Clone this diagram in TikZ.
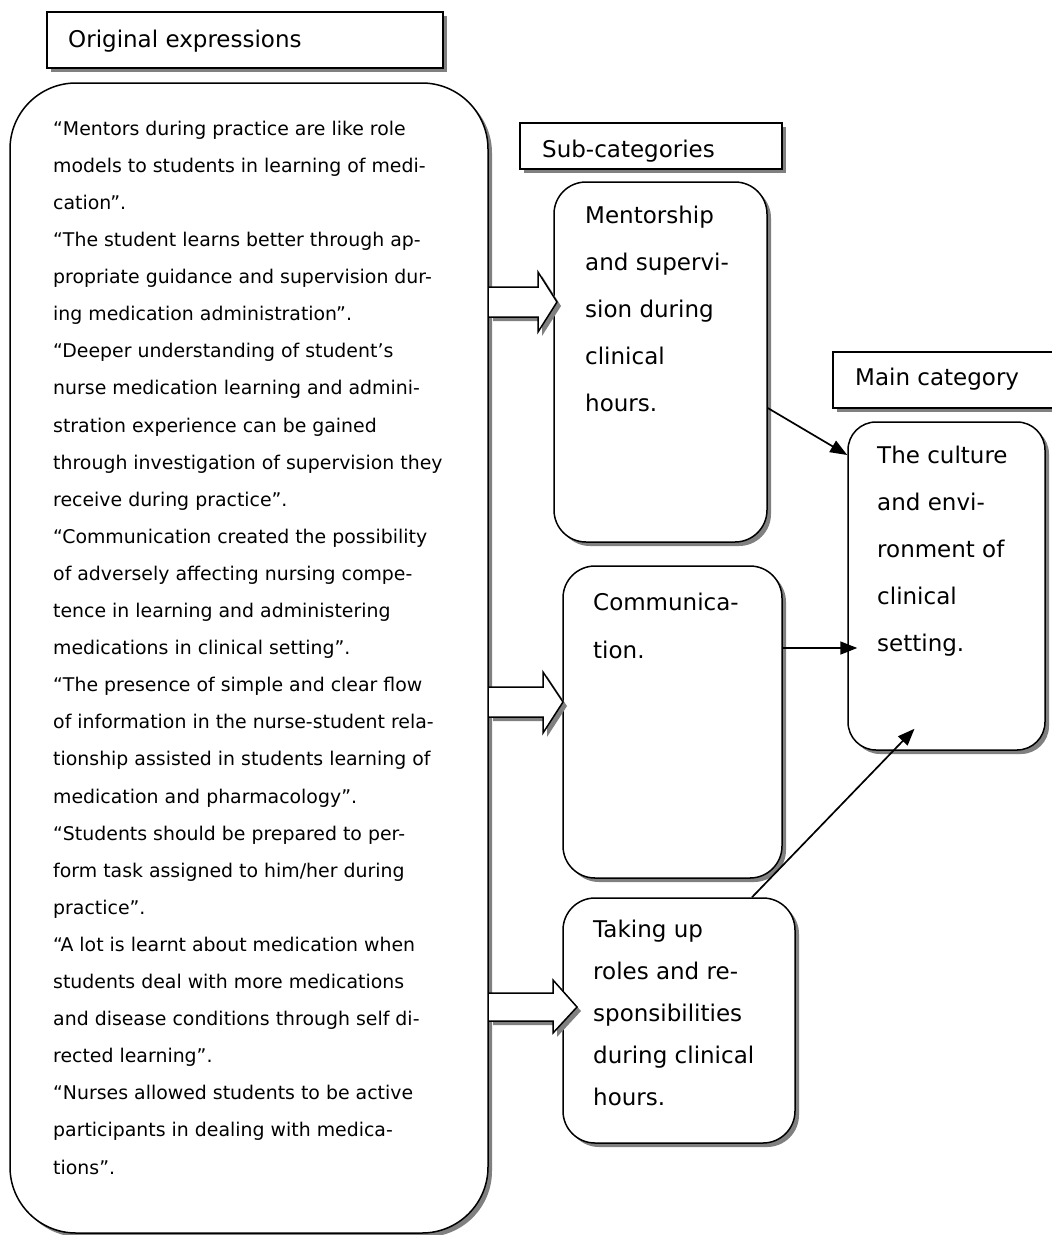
\documentclass[tikz,border=0pt]{standalone}
\usepackage{fontspec}
\setmainfont{DejaVu Sans}
\usetikzlibrary{shadows,arrows.meta}
\begin{document}
\begin{tikzpicture}[x=1pt,y=-1pt,
  shadowed/.style={drop shadow={shadow xshift=4pt,shadow yshift=-4pt,fill=black!50,opacity=1}},
  box/.style={draw,line width=1.5pt,fill=white,shadowed,inner sep=0pt},
  lab/.style={font=\fontsize{23}{47}\selectfont,inner sep=0pt,align=left},
  labB/.style={font=\fontsize{23}{48}\selectfont,inner sep=0pt,align=left},
  labC/.style={font=\fontsize{23}{42}\selectfont,inner sep=0pt,align=left},
  quotetext/.style={font=\fontsize{18.9}{37.1}\selectfont,inner sep=0pt,align=left},
  blockfill/.style={fill=white,shadowed},
  blockline/.style={draw,line width=1.5pt,line join=miter},
  thinarrow/.style={line width=1.7pt,-{Triangle[length=17pt,width=13pt]}}]
\useasboundingbox (0,0) rectangle (1052,1235);
\fill[white] (0,0) rectangle (1052,1235);

% label boxes
\node[box,minimum width=396pt,minimum height=56pt] (titlebox) at (245,40) {};
\node[lab,anchor=base west] (titletext) at (68,47) {Original expressions};

\node[box,minimum width=262pt,minimum height=46pt] (subbox) at (651,146) {};
\node[lab,anchor=base west] (subtext) at (542,157) {Sub-categories};

\node[box,minimum width=232pt,minimum height=56pt] (mainlabbox) at (949,380) {};
\node[lab,anchor=base west] (maintextlab) at (855,385) {Main category};

% big quotes box
\node[box,rounded corners=66pt,minimum width=478pt,minimum height=1150pt] (quotes) at (249,658) {};
\node[quotetext,anchor=north west] (quotestext) at (53,117) {\rule{0pt}{18pt}“Mentors during practice are like role\\
models to students in learning of medi-\\
cation”.\\
“The student learns better through ap-\\
propriate guidance and supervision dur-\\
ing medication administration”.\\
“Deeper understanding of student’s\\
nurse medication learning and admini-\\
stration experience can be gained\\
through investigation of supervision they\\
receive during practice”.\\
“Communication created the possibility\\
of adversely affecting nursing compe-\\
tence in learning and administering\\
medications in clinical setting”.\\
“The presence of simple and clear flow\\
of information in the nurse-student rela-\\
tionship assisted in students learning of\\
medication and pharmacology”.\\
“Students should be prepared to per-\\
form task assigned to him/her during\\
practice”.\\
“A lot is learnt about medication when\\
students deal with more medications\\
and disease conditions through self di-\\
rected learning”.\\
“Nurses allowed students to be active\\
participants in dealing with medica-\\
tions”.};

% sub-category boxes
\node[box,rounded corners=32pt,minimum width=213pt,minimum height=360pt] (b1) at (660.5,362) {};
\node[lab,anchor=north west] (b1text) at (585,203) {\rule{0pt}{20pt}Mentorship\\and supervi-\\sion during\\clinical\\hours.};

\node[box,rounded corners=32pt,minimum width=219pt,minimum height=312pt] (b2) at (672.5,722) {};
\node[labB,anchor=north west] (b2text) at (593,590) {\rule{0pt}{20pt}Communica-\\tion.};

\node[box,rounded corners=32pt,minimum width=232pt,minimum height=245pt] (b3) at (679,1020.5) {};
\node[labC,anchor=north west] (b3text) at (593,917) {\rule{0pt}{20pt}Taking up\\roles and re-\\sponsibilities\\during clinical\\hours.};

% main category box
\node[box,rounded corners=28pt,minimum width=197pt,minimum height=328pt] (main) at (946.5,586) {};
\node[lab,anchor=north west] (maintext) at (877,443) {\rule{0pt}{20pt}The culture\\and envi-\\ronment of\\clinical\\setting.};

% block arrows
\coordinate (a1) at (489,302);
\coordinate (a2) at (489,702);
\coordinate (a3) at (489,1007);
\path[blockfill] (a1) ++(0,-15) -- ++(49,0) -- ++(0,-15) -- ++(19,30) -- ++(-19,30) -- ++(0,-15) -- ++(-49,0) -- cycle;
\draw[blockline] (a1) ++(0,-15) -- ++(49,0) -- ++(0,-15) -- ++(19,30) -- ++(-19,30) -- ++(0,-15) -- ++(-49,0);
\path[blockfill] (a2) ++(0,-15) -- ++(54,0) -- ++(0,-15) -- ++(20,30) -- ++(-20,31) -- ++(0,-16) -- ++(-54,0) -- cycle;
\draw[blockline] (a2) ++(0,-15) -- ++(54,0) -- ++(0,-15) -- ++(20,30) -- ++(-20,31) -- ++(0,-16) -- ++(-54,0);
\path[blockfill] (a3) ++(0,-14) -- ++(64,0) -- ++(0,-13) -- ++(24,27) -- ++(-24,26) -- ++(0,-12) -- ++(-64,0) -- cycle;
\draw[blockline] (a3) ++(0,-14) -- ++(64,0) -- ++(0,-13) -- ++(24,27) -- ++(-24,26) -- ++(0,-12) -- ++(-64,0);

% connectors to main category
\draw[thinarrow] ([yshift=-46pt]b1.east) -- ([yshift=131pt]main.west);
\draw[thinarrow] ([yshift=74pt]b2.east) -- ([xshift=10pt,yshift=-62pt]main.west);
\draw[thinarrow] ([xshift=73pt]b3.north) -- ([xshift=-32pt,yshift=22pt]main.south);
\end{tikzpicture}
\end{document}
